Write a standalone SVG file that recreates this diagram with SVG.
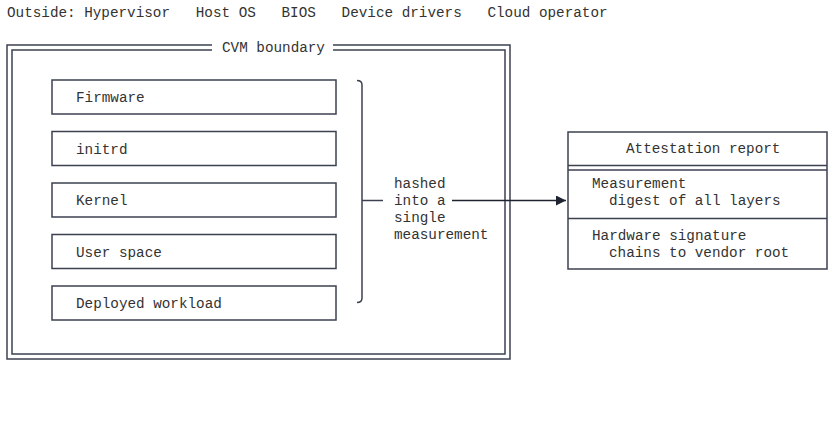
<svg xmlns="http://www.w3.org/2000/svg" width="833" height="421" viewBox="0 0 833 421">
<style>
text{font-family:"Liberation Mono","Courier New",monospace;font-size:14.3px;fill:#333;}
.box{fill:#fff;stroke:#3c4150;stroke-width:1.5;}
.ln{fill:none;stroke:#3c4150;stroke-width:1.5;}
</style>
<defs>
<marker id="ah" markerWidth="10" markerHeight="10" refX="10" refY="5" orient="auto" markerUnits="userSpaceOnUse">
<path d="M0,0 L10,5 L0,10 Z" fill="#1f2430"/>
</marker>
</defs>
<rect width="833" height="421" fill="#fff"/>
<text x="7" y="17" xml:space="preserve">Outside: Hypervisor   Host OS   BIOS   Device drivers   Cloud operator</text>
<g id="cvm-boundary">
<rect x="7" y="45" width="503" height="314" class="ln"/>
<rect x="12" y="50" width="493" height="304" class="ln"/>
<rect x="212" y="40" width="121" height="14" fill="#fff"/>
<text x="222" y="52">CVM boundary</text>
</g>
<g id="firmware"><rect x="52" y="80" width="284" height="34" class="box"/><text x="76" y="102">Firmware</text></g>
<g id="initrd"><rect x="52" y="131.5" width="284" height="34" class="box"/><text x="76" y="153.5">initrd</text></g>
<g id="kernel"><rect x="52" y="183" width="284" height="34" class="box"/><text x="76" y="205">Kernel</text></g>
<g id="user-space"><rect x="52" y="234.5" width="284" height="34" class="box"/><text x="76" y="256.5">User space</text></g>
<g id="deployed-workload"><rect x="52" y="286" width="284" height="34" class="box"/><text x="76" y="308">Deployed workload</text></g>
<g id="attestation-report">
<rect x="568" y="132" width="259" height="137" class="box"/>
<line x1="568" y1="165.5" x2="827" y2="165.5" class="ln"/>
<line x1="568" y1="170" x2="827" y2="170" class="ln"/>
<line x1="568" y1="218.5" x2="827" y2="218.5" class="ln"/>
<text x="626" y="153">Attestation report</text>
<text x="592" y="188">Measurement</text>
<text x="609" y="205">digest of all layers</text>
<text x="592" y="239.5">Hardware signature</text>
<text x="609" y="256.5">chains to vendor root</text>
</g>
<g id="connectors">
<path d="M357,80.5 Q362,80.5 362,85 L362,298 Q362,302.5 357,302.5" class="ln"/>
<line x1="362" y1="200.5" x2="383" y2="200.5" class="ln"/>
<line x1="452" y1="200.5" x2="566" y2="200.5" stroke="#1f2430" stroke-width="1.5" marker-end="url(#ah)"/>
<text x="394" y="188">hashed</text>
<text x="394" y="205">into a</text>
<text x="394" y="222">single</text>
<text x="394" y="239">measurement</text>
</g>
</svg>
